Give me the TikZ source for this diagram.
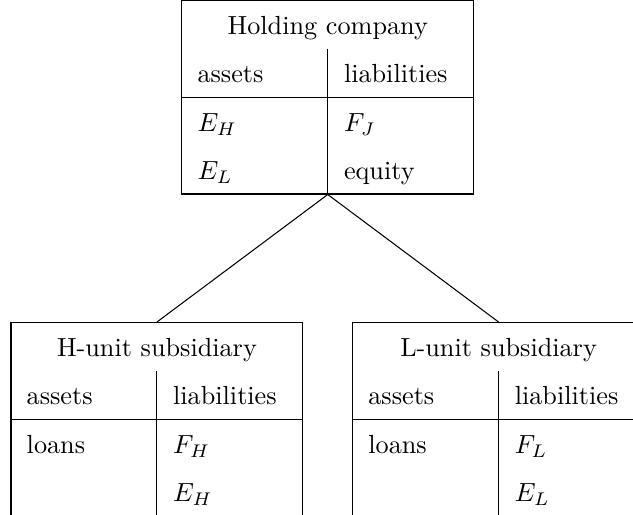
\documentclass[tikz,border=0pt]{standalone}
\usepackage{array}

\tikzset{sheet/.style={draw, inner sep=0pt, anchor=north}}
\renewcommand{\arraystretch}{1.53}
\newcolumntype{B}{p{43.5pt}}

\begin{document}
\begin{tikzpicture}
\useasboundingbox (-125.1pt,-196.5pt) rectangle (116.5pt,0pt);

% holding company balance sheet
\node[sheet] (hold) at (0,0) {%
\begin{tabular}{B|B}
\multicolumn{2}{c}{Holding company}\\
assets & liabilities\\ \hline
$E_H$ & $F_J$\\
$E_L$ & equity
\end{tabular}};

% the two subsidiaries
\node[sheet] (hsub) at (-65.2pt,-122.9pt) {%
\begin{tabular}{B|B}
\multicolumn{2}{c}{H-unit subsidiary}\\
assets & liabilities\\ \hline
loans & $F_H$\\
 & $E_H$
\end{tabular}};

\node[sheet] (lsub) at (65.2pt,-122.9pt) {%
\begin{tabular}{B|B}
\multicolumn{2}{c}{L-unit subsidiary}\\
assets & liabilities\\ \hline
loans & $F_L$\\
 & $E_L$
\end{tabular}};

\draw (hold.south) -- (hsub.north);
\draw (hold.south) -- (lsub.north);
\end{tikzpicture}
\end{document}
